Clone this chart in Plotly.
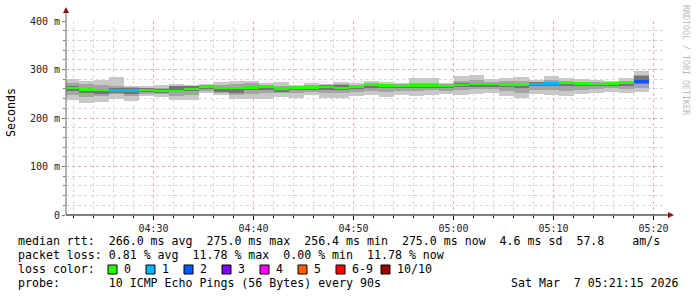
import pandas as pd
import plotly.graph_objects as go

# ---------------- data (ms) ----------------
step_start = "2026-03-07 04:21:00"
n_steps = 39
median_ms = [262, 259, 258, 257, 257, 258, 256, 256, 260, 265, 262, 262, 263, 265, 261, 263, 263, 264, 262, 265,
             268, 267, 266, 267, 267, 266, 268, 270, 270, 269, 268, 270, 271, 272, 271, 270, 271, 273, 275]
ping_max = [280, 277, 278, 285, 267, 265, 268, 271, 269, 271, 274, 277, 277, 272, 274, 269, 272, 270, 274, 272,
            277, 274, 273, 283, 282, 273, 287, 289, 281, 283, 285, 279, 286, 283, 281, 278, 276, 282, 297]
ping_min = [237, 230, 234, 240, 236, 245, 244, 238, 238, 251, 248, 240, 240, 240, 243, 241, 247, 241, 241, 245,
            248, 244, 247, 246, 248, 250, 248, 250, 252, 246, 241, 249, 248, 246, 249, 252, 254, 251, 254]
ping_q_hi = [272, 270, 268, 266, 264, 262, 262, 266, 266, 268, 268, 270, 272, 269, 266, 266, 268, 268, 270, 268,
             272, 271, 270, 273, 273, 271, 277, 278, 275, 276, 276, 275, 278, 277, 275, 275, 274, 277, 288]
ping_q_lo = [248, 243, 246, 250, 246, 250, 250, 246, 248, 256, 252, 248, 250, 252, 252, 252, 254, 252, 252, 254,
             256, 254, 256, 255, 257, 256, 257, 259, 259, 255, 252, 257, 257, 256, 258, 259, 261, 259, 262]
ping_d_hi = [266, 262, 260, 262, 262, 262, 260, 266, 266, 267, 264, 262, 266, 266, 264, 266, 266, 268, 268, 268,
             270, 270, 269, 270, 270, 269, 272, 273, 273, 272, 271, 274, 275, 275, 274, 273, 274, 276, 286]
ping_d_lo = [256, 252, 250, 252, 249, 254, 252, 254, 256, 260, 254, 252, 258, 258, 254, 258, 258, 258, 258, 260,
             262, 261, 261, 261, 261, 261, 263, 264, 264, 263, 261, 265, 265, 266, 265, 265, 266, 267, 270]
loss_count = [0, 0, 0, 1, 1, 0, 0, 0, 0, 0, 0, 0, 0, 0, 0, 0, 0, 0, 0, 0,
              0, 0, 0, 0, 0, 0, 0, 0, 0, 0, 0, 1, 1, 0, 0, 0, 0, 0, 2]

loss_labels = ["0", "1", "2", "3", "4", "5", "6-9", "10/10"]
loss_colors = ["#26ff00", "#00b8ff", "#0059ff", "#7e00ff", "#ff00ff", "#ff5e00", "#ff0000", "#a10000"]

y_tickvals = [0, 100, 200, 300, 400]
y_ticktext = ["0", "100 m", "200 m", "300 m", "400 m"]
x_ticks = ["04:30", "04:40", "04:50", "05:00", "05:10", "05:20"]

stats_rtt = "median rtt:  266.0 ms avg  275.0 ms max  256.4 ms min  275.0 ms now  4.6 ms sd  57.8    am/s"
stats_loss = "packet loss: 0.81 % avg  11.78 % max  0.00 % min  11.78 % now"
probe_text = "probe:       10 ICMP Echo Pings (56 Bytes) every 90s"
date_text = "Sat Mar  7 05:21:15 2026"

# ---------------- figure ----------------
STEP_MS = 90000
starts = pd.date_range(step_start, periods=n_steps, freq="90s")
centers = starts + pd.Timedelta(seconds=45)

FONT = "DejaVu Sans Mono"
L, R, T, B = 66, 666, 21, 215
W, H = 697, 297


def px(x):
    return (x - L) / (R - L)


def py(y):
    return (B - y) / (B - T)


fig = go.Figure()


def band(lo, hi, color):
    fig.add_trace(go.Bar(
        x=centers, base=lo, y=[h - l for l, h in zip(lo, hi)],
        width=STEP_MS, marker=dict(color=color, line=dict(width=0)),
        hoverinfo="skip", showlegend=False))


band(ping_min, ping_max, "#c8c8c8")
band(ping_q_lo, ping_q_hi, "#a4a4a4")
band(ping_d_lo, ping_d_hi, "#747474")

med_h = 5.0
fig.add_trace(go.Bar(
    x=centers, base=[m - med_h / 2 for m in median_ms], y=[med_h] * n_steps,
    width=STEP_MS, marker=dict(color=[loss_colors[c] for c in loss_count], line=dict(width=0)),
    hoverinfo="skip", showlegend=False))

x0 = pd.Timestamp("2026-03-07 04:21:15")
x1 = pd.Timestamp("2026-03-07 05:21:15")
tick_dates = [pd.Timestamp("2026-03-07 " + t) for t in x_ticks]

fig.update_layout(
    width=W, height=H, margin=dict(l=L, r=W - R, t=T, b=H - B, pad=0),
    paper_bgcolor="white", plot_bgcolor="white",
    barmode="overlay", bargap=0, showlegend=False,
    font=dict(family=FONT, size=10, color="#222"),
    xaxis=dict(
        type="date", range=[x0, x1], tickvals=tick_dates, ticktext=x_ticks,
        showgrid=True, gridcolor="#e8b0b0", griddash="dot", gridwidth=1,
        ticks="outside", ticklen=4, tickcolor="#000", showline=False, zeroline=False,
        tickfont=dict(family=FONT, size=10, color="#222"),
        minor=dict(dtick=120000, tick0="2026-03-07 04:30:00", showgrid=True, gridcolor="#d6d6d6",
                   griddash="dot", ticks="outside", ticklen=2, tickcolor="#000"),
    ),
    yaxis=dict(
        range=[0, 400], tickvals=y_tickvals, ticktext=y_ticktext,
        showgrid=True, gridcolor="#e8b0b0", griddash="dot", gridwidth=1,
        ticks="outside", ticklen=3, tickcolor="#777", showline=False, zeroline=False,
        tickfont=dict(family=FONT, size=10, color="#222"),
        minor=dict(dtick=20, showgrid=True, gridcolor="#d6d6d6", griddash="dot",
                   ticks="outside", ticklen=2, tickcolor="#777"),
    ),
)

shapes = []
# axis lines extending beyond plot area
shapes.append(dict(type="line", xref="paper", yref="paper", x0=px(L), x1=px(L), y0=py(B), y1=py(12),
                   line=dict(color="#666", width=1)))
shapes.append(dict(type="line", xref="paper", yref="paper", x0=px(L), x1=px(670), y0=py(B), y1=py(B),
                   line=dict(color="#000", width=1)))
# arrowheads
shapes.append(dict(type="path", xref="paper", yref="paper",
                   path=f"M {px(L)} {py(7)} L {px(L-3)} {py(13)} L {px(L+3)} {py(13)} Z",
                   fillcolor="#8b1010", line=dict(width=0)))
shapes.append(dict(type="path", xref="paper", yref="paper",
                   path=f"M {px(674)} {py(B)} L {px(668)} {py(B-3)} L {px(668)} {py(B+3)} Z",
                   fillcolor="#8b1010", line=dict(width=0)))

annotations = []


def text(x, y, s, xanchor="left", size=11.6, color="#000", angle=0):
    annotations.append(dict(xref="paper", yref="paper", x=px(x), y=py(y), text=s.replace(" ", "\u00a0"),
                            showarrow=False, xanchor=xanchor, yanchor="middle", textangle=angle,
                            font=dict(family=FONT, size=size, color=color)))


text(16, 241, stats_rtt)
text(16, 255, stats_loss)
text(16, 269, "loss color:")
text(16, 283, probe_text)
text(681, 283, date_text, xanchor="right")
text(11, 113, "Seconds", xanchor="center", angle=-90)
text(686, 60, "RRDTOOL / TOBI OETIKER", xanchor="center", size=8.3, color="#bbbbbb", angle=90)

box_x = [108, 146, 184, 222, 260, 298, 336, 381]
for bx, lab, col in zip(box_x, loss_labels, loss_colors):
    shapes.append(dict(type="rect", xref="paper", yref="paper",
                       x0=px(bx), x1=px(bx + 9), y0=py(274), y1=py(265),
                       fillcolor=col, line=dict(color="#000", width=1)))
    text(bx + 14, 269, lab)

fig.update_layout(shapes=shapes, annotations=annotations)
fig.write_html("out.html")
